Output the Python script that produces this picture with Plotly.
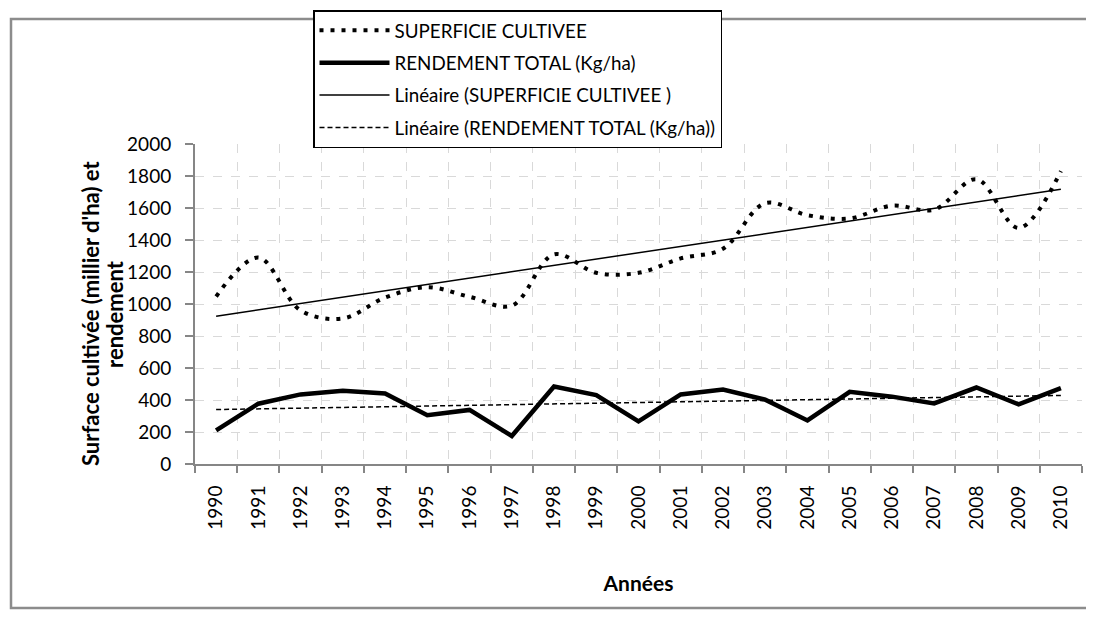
import numpy as np
import plotly.graph_objects as go

years = [str(y) for y in range(1990, 2011)]
superficie = [1047, 1290, 960, 910, 1040, 1105, 1045, 990, 1310, 1195, 1195,
              1285, 1345, 1630, 1555, 1535, 1615, 1590, 1780, 1475, 1830]
rendement = [210, 377, 435, 458, 441, 305, 338, 175, 484, 431, 266,
             435, 466, 402, 272, 451, 421, 379, 478, 373, 474]

names = ["SUPERFICIE CULTIVEE", "RENDEMENT TOTAL (Kg/ha)",
         "Linéaire (SUPERFICIE CULTIVEE )", "Linéaire (RENDEMENT TOTAL (Kg/ha))"]
y_title_lines = ["Surface cultivée (millier d'ha) et", "rendement"]
x_title = "Années"

idx = np.arange(len(years))
ps = np.polyfit(idx, superficie, 1)
pr = np.polyfit(idx, rendement, 1)
trend_s = np.polyval(ps, idx)
trend_r = np.polyval(pr, idx)

FONT = "Lato"
fig = go.Figure()
fig.add_trace(go.Scatter(x=years, y=superficie, name=names[0], mode="lines",
                         line=dict(color="black", width=4, dash="4px,7px", shape="spline", smoothing=1),
                         legendgroup="a"))
fig.add_trace(go.Scatter(x=years, y=rendement, name=names[1], mode="lines",
                         line=dict(color="black", width=4.5), legendgroup="b"))
fig.add_trace(go.Scatter(x=years, y=trend_s, name=names[2], mode="lines",
                         line=dict(color="black", width=1.5), legendgroup="c"))
fig.add_trace(go.Scatter(x=years, y=trend_r, name=names[3], mode="lines",
                         line=dict(color="black", width=1.5, dash="5px,3px"), legendgroup="d"))

L, R, T, B = 187, 1074, 136, 456
W, H = 1094, 624
pw, ph = R - L, B - T

def px(xp):
    return (xp - L) / pw

def py(yp):
    return (B - yp) / ph

title_x = [82, 106]
annots = [dict(text="<b>" + t + "</b>", textangle=-90,
               xref="paper", yref="paper", x=px(xc), y=py(306),
               xanchor="center", yanchor="middle", showarrow=False,
               font=dict(size=22, family=FONT, color="black"))
          for t, xc in zip(y_title_lines, title_x)]

fig.update_layout(
    width=W, height=H,
    margin=dict(l=L, r=W - R, t=T, b=H - B, autoexpand=False),
    paper_bgcolor="white", plot_bgcolor="white",
    font=dict(family=FONT, color="black", size=19),
    showlegend=True,
    legend=dict(x=px(305), y=py(2), xanchor="left", yanchor="top",
                bordercolor="black", borderwidth=1.5, bgcolor="white",
                font=dict(size=18.8, family=FONT, color="black"),
                tracegroupgap=5, itemwidth=70),
    hovermode=False,
    shapes=[dict(type="rect", xref="paper", yref="paper",
                 x0=px(3), x1=px(1086), y0=py(600), y1=py(11),
                 line=dict(color="#8c8c8c", width=2.5), layer="below")],
    annotations=annots,
)
fig.update_xaxes(type="category", tickson="boundaries", tickangle=-90,
                 range=[-0.5, len(years) - 0.5],
                 showgrid=True, gridcolor="#d9d9d9", griddash="dash", gridwidth=1,
                 showline=True, linecolor="#868686", linewidth=2,
                 ticks="outside", ticklen=7, tickcolor="#868686", tickwidth=1.5,
                 ticklabelstandoff=12,
                 tickfont=dict(size=19, family=FONT),
                 title=dict(text="<b>" + x_title + "</b>", font=dict(size=21, family=FONT), standoff=48),
                 automargin=False)
fig.update_yaxes(range=[0, 2000], dtick=200, tick0=0,
                 showgrid=True, gridcolor="#d9d9d9", griddash="dash", gridwidth=1,
                 zeroline=False,
                 showline=True, linecolor="#868686", linewidth=2,
                 ticks="outside", ticklen=8, tickcolor="#868686", tickwidth=1.5,
                 ticklabelstandoff=10,
                 tickfont=dict(size=19, family=FONT),
                 automargin=False)

fig.write_html("out.html", config={"displayModeBar": False})
